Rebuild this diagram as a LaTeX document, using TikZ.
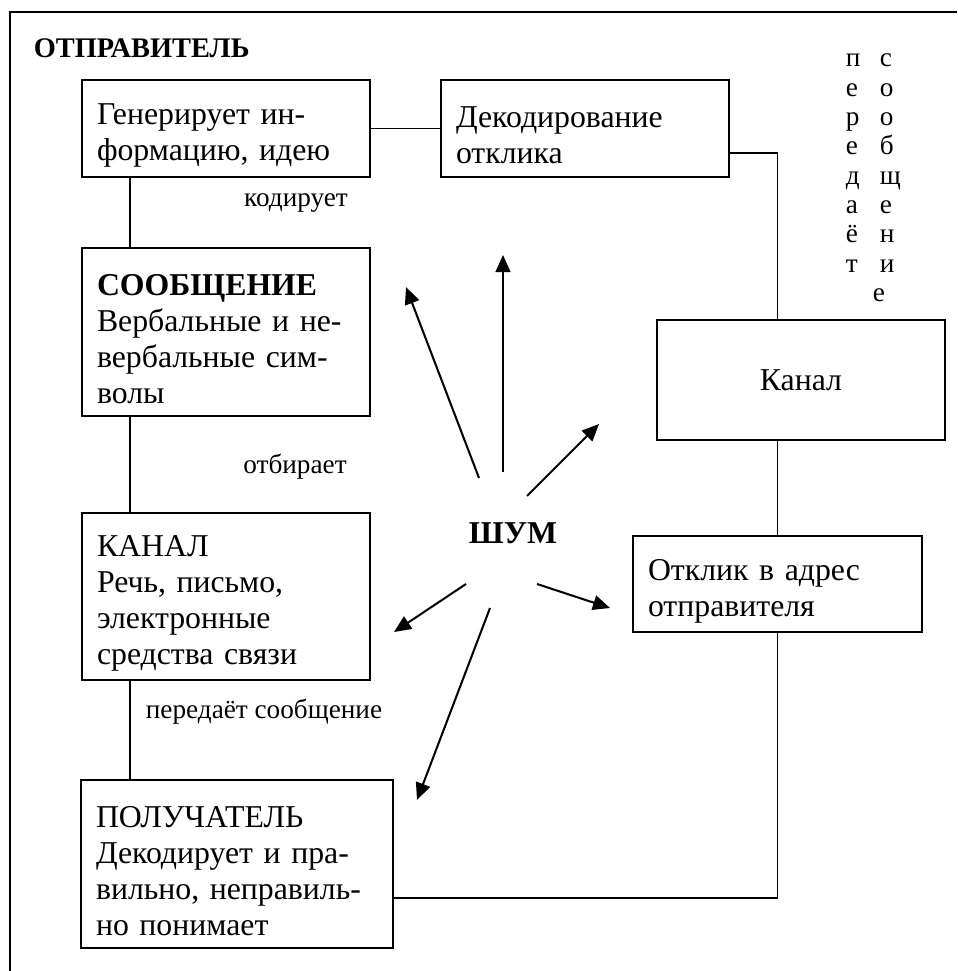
\documentclass[tikz,border=0pt]{standalone}
\usepackage{fontspec}
\setmainfont{Liberation Serif}
\usetikzlibrary{arrows.meta}
\newdimen\px \px=0.4405pt

\begin{document}
\begin{tikzpicture}[x=1\px, y=-1\px, line width=0.75pt,
    plainbox/.style={draw, rectangle, inner sep=0pt, align=left,
      font=\fontsize{14}{15.9}\selectfont},
    box/.style={plainbox, execute at begin node={\rule{0pt}{35\px}}},
    lbl/.style={font=\fontsize{12}{13.8}\selectfont, inner sep=0pt},
    letter/.style={font=\fontsize{12}{13.8}\selectfont, inner sep=0pt, anchor=base west},
    noisearrow/.style={-{Triangle[length=7.5pt,width=6.5pt]}, line width=0.9pt}]
    \useasboundingbox (0,0) rectangle (957,971);
    % frame
    \draw (957,12) -- (10,12) -- (10,971);
    \node[anchor=west, inner sep=0pt, font=\fontsize{12.5}{14}\selectfont\bfseries] (sender) at (33,48) {ОТПРАВИТЕЛЬ};

    \node[box, text width=258\px, minimum width=288\px, minimum height=97\px] (gen) at (226,128.5) {Генерирует ин-\\формацию, идею};
    \node[box, text width=258\px, minimum width=288\px, minimum height=97\px] (dec) at (585,128.5) {Декодирование\\отклика};
    \node[box, text width=258\px, minimum width=288\px, minimum height=168\px] (msg) at (226,332) {\textbf{СООБЩЕНИЕ}\\Вербальные и не-\\вербальные сим-\\волы};
    \node[box, text width=258\px, minimum width=288\px, minimum height=167\px] (chan) at (226,596.5) {КАНАЛ\\Речь, письмо,\\электронные\\средства связи};
    \node[box, text width=282\px, minimum width=312\px, minimum height=168\px] (recv) at (237,864) {ПОЛУЧАТЕЛЬ\\Декодирует и пра-\\вильно, неправиль-\\но понимает};
    \node[plainbox, align=center, text width=258\px, minimum width=288\px, minimum height=120\px] (kanal) at (801,380) {Канал};
    \node[box, text width=259\px, minimum width=289\px, minimum height=96\px] (resp) at (777.5,584) {Отклик в адрес\\отправителя};

    \node[lbl] (code) at (296,203) {кодирует};
    \node[lbl] (pick) at (295,467) {отбирает};
    \node[lbl] (send) at (264,712) {передаёт сообщение};

    % vertical caption
    \foreach \l [count=\i] in {п,е,р,е,д,а,ё,т}
      \node[letter] (pa\i) at (845,{67+29.3*(\i-1)}) {\l};
    \foreach \l [count=\i] in {с,о,о,б,щ,е,н,и}
      \node[letter] (so\i) at (879,{67+29.3*(\i-1)}) {\l};
    \node[letter] (so9) at (872,{67+29.3*8}) {е};

    % connectors
    \coordinate (spine) at (130,0);
    \draw (gen) -- (dec);
    \draw (gen.south -| spine) -- (msg.north -| spine);
    \draw (msg.south -| spine) -- (chan.north -| spine);
    \draw (chan.south -| spine) -- (recv.north -| spine);
    \draw ([yshift=-24.5\px]dec.east) -| (resp.north |- kanal.north);
    \draw (resp.north |- kanal.south) -- (resp.north);
    \draw (resp.south) |- ([yshift=-34\px]recv.east);

    % noise
    \node[inner sep=0pt, font=\fontsize{14}{16}\selectfont\bfseries] (noise) at (513,533) {ШУМ};
    \coordinate (n1) at ([shift={(-10,-61)}]noise.center);
    \coordinate (n2) at ([shift={(-34,-55)}]noise.center);
    \coordinate (n3) at ([shift={(14,-37)}]noise.center);
    \coordinate (n4) at ([shift={(-47,51)}]noise.center);
    \coordinate (n5) at ([shift={(24,51)}]noise.center);
    \coordinate (n6) at ([shift={(-23,75)}]noise.center);
    \coordinate (t1) at (503,255);
    \coordinate (t2) at (406,287);
    \coordinate (t3) at (599,424);
    \coordinate (t4) at (394,632);
    \coordinate (t5) at (610,608);
    \coordinate (t6) at (417,800);
    \foreach \i in {1,...,6}
      \draw[noisearrow] (n\i) -- (t\i);
\end{tikzpicture}
\end{document}
